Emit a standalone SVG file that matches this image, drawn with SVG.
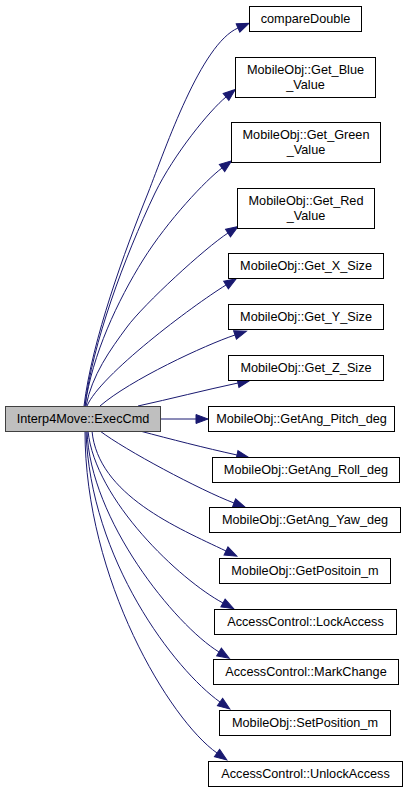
<svg xmlns="http://www.w3.org/2000/svg" width="408" height="792" viewBox="0 0 408 792">
<style>
.n rect{fill:#ffffff;stroke:#000000;stroke-width:1}
.n.cur rect{fill:#bfbfbf;stroke:#404040}
.n text{font-family:"Liberation Sans",Arial,Helvetica,sans-serif;font-size:12.7px;text-anchor:middle;fill:#000000}
.e path{fill:none;stroke:#191970;stroke-width:1;marker-end:url(#ah)}
</style>
<defs>
<marker id="ah" markerUnits="userSpaceOnUse" viewBox="0 0 12 9" markerWidth="12" markerHeight="9" refX="0" refY="4.5" orient="auto" overflow="visible">
<path d="M0,0 L12,4.5 L0,9 z" fill="#191970" stroke="#191970" stroke-width="1"/>
</marker>
</defs>
<rect x="0" y="0" width="408" height="792" fill="#ffffff"/>
<g id="edges" class="e">
<path d="M84,406 C92,340 125,250 148,193 C166,147 201,44 238,28"/>
<path d="M85,406 C92,345 124,258 155,193 C174,154 210,110 226,97"/>
<path d="M85,406 C92,355 118,300 143,260 C168,220 206,180 222,168"/>
<path d="M86,406 C92,375 110,350 127,327 C144,304 205,248 228,233"/>
<path d="M87,406 C100,375 192,306 226,285"/>
<path d="M100,406 C130,380 205,345 235,335"/>
<path d="M138,406 C170,399 205,390 238,383"/>
<path d="M160,419 L196,419"/>
<path d="M140,431 C170,439 205,448 237,455"/>
<path d="M100,431 C125,450 200,490 234,503"/>
<path d="M92,431 C98,495 178,528 226,551"/>
<path d="M88,431 C95,500 180,580 223,603"/>
<path d="M87,431 C90,520 175,625 219,652"/>
<path d="M86,431 C90,560 175,670 220,702"/>
<path d="M85,431 C85,580 170,720 217,753"/>
</g>
<g id="n_exec" class="n cur"><rect x="5.5" y="406.5" width="155" height="25"/><text x="83" y="423">Interp4Move::ExecCmd</text></g>
<g id="n_compare" class="n"><rect x="249.5" y="6.5" width="112" height="25"/><text x="305.5" y="23">compareDouble</text></g>
<g id="n_blue" class="n"><rect x="235.5" y="57.5" width="140" height="40"/><text x="305.5" y="74">MobileObj::Get_Blue</text><text x="305.5" y="89">_Value</text></g>
<g id="n_green" class="n"><rect x="231.5" y="122.5" width="149" height="40"/><text x="306" y="139">MobileObj::Get_Green</text><text x="306" y="154">_Value</text></g>
<g id="n_red" class="n"><rect x="237.5" y="188.5" width="137" height="40"/><text x="306" y="205">MobileObj::Get_Red</text><text x="306" y="220">_Value</text></g>
<g id="n_x" class="n"><rect x="228.5" y="253.5" width="155" height="25"/><text x="306" y="270">MobileObj::Get_X_Size</text></g>
<g id="n_y" class="n"><rect x="228.5" y="304.5" width="155" height="25"/><text x="306" y="321">MobileObj::Get_Y_Size</text></g>
<g id="n_z" class="n"><rect x="228.5" y="355.5" width="155" height="25"/><text x="306" y="372">MobileObj::Get_Z_Size</text></g>
<g id="n_pitch" class="n"><rect x="208.5" y="406.5" width="186" height="25"/><text x="301.5" y="423">MobileObj::GetAng_Pitch_deg</text></g>
<g id="n_roll" class="n"><rect x="212.5" y="457.5" width="187" height="25"/><text x="306" y="474">MobileObj::GetAng_Roll_deg</text></g>
<g id="n_yaw" class="n"><rect x="209.5" y="507.5" width="191" height="25"/><text x="305" y="524">MobileObj::GetAng_Yaw_deg</text></g>
<g id="n_pos" class="n"><rect x="219.5" y="558.5" width="171" height="25"/><text x="305" y="575">MobileObj::GetPositoin_m</text></g>
<g id="n_lock" class="n"><rect x="214.5" y="609.5" width="182" height="25"/><text x="305.5" y="626">AccessControl::LockAccess</text></g>
<g id="n_mark" class="n"><rect x="213.5" y="659.5" width="185" height="25"/><text x="306" y="676">AccessControl::MarkChange</text></g>
<g id="n_set" class="n"><rect x="219.5" y="710.5" width="171" height="25"/><text x="305" y="727">MobileObj::SetPosition_m</text></g>
<g id="n_unlock" class="n"><rect x="208.5" y="761.5" width="194" height="25"/><text x="305.5" y="778">AccessControl::UnlockAccess</text></g>
</svg>
